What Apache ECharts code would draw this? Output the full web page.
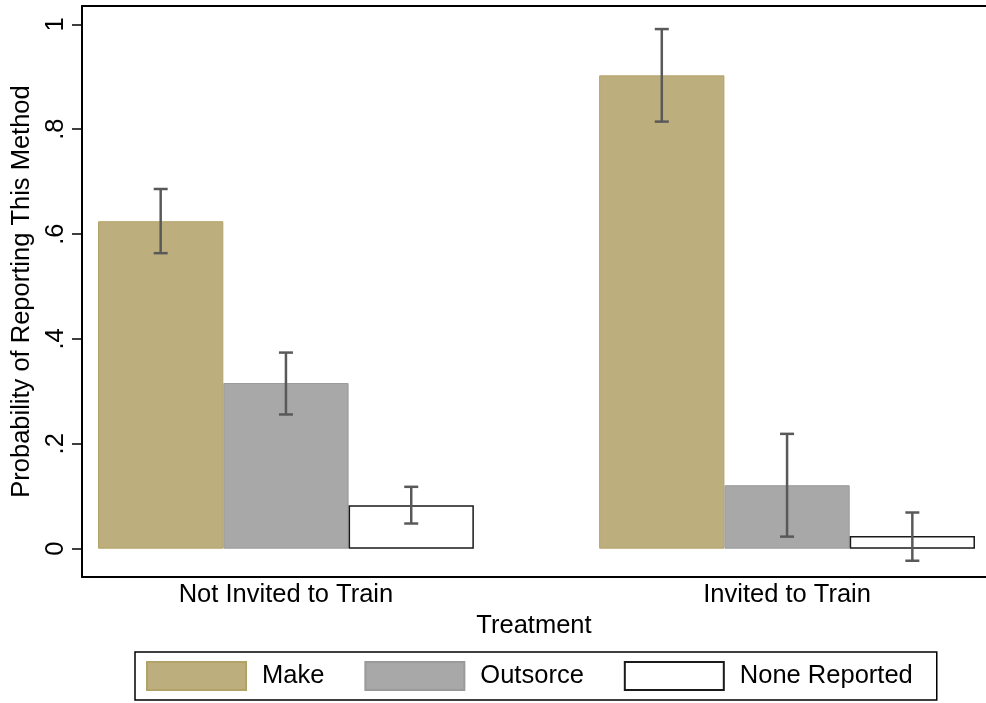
<!DOCTYPE html>
<html>
<head>
<meta charset="utf-8">
<script src="https://cdn.jsdelivr.net/npm/echarts@6/dist/echarts.min.js"></script>
<style>
html,body{margin:0;padding:0;background:#fff;}
#chart{width:986px;height:703px;}
</style>
</head>
<body>
<div id="chart"></div>
<script>
// ---- data ----
var categories = ['Not Invited to Train', 'Invited to Train'];
var seriesNames = ['Make', 'Outsorce', 'None Reported'];
var makeValues = [0.6245, 0.9027];
var outsourceValues = [0.316, 0.121];
var noneValues = [0.083, 0.024];
var makeLow = [0.5636, 0.8145];
var makeHigh = [0.686, 0.991];
var outsourceLow = [0.256, 0.023];
var outsourceHigh = [0.374, 0.219];
var noneLow = [0.048, -0.023];
var noneHigh = [0.118, 0.069];
var yTickValues = [0, 0.2, 0.4, 0.6, 0.8, 1];
var yTickLabels = ['0', '.2', '.4', '.6', '.8', '1'];
var xTickValues = [0, 1];

var FONT = '"Liberation Sans", Arial, Helvetica, sans-serif';
var FS = 25.5;

var values = [makeValues, outsourceValues, noneValues];
var lows = [makeLow, outsourceLow, noneLow];
var highs = [makeHigh, outsourceHigh, noneHigh];
var styles = [
  {color: '#bdae7d', borderColor: '#b3a268', borderWidth: 1},
  {color: '#a8a8a8', borderColor: '#9a9a9a', borderWidth: 1},
  {color: '#ffffff', borderColor: '#1a1a1a', borderWidth: 1.5}
];

var series = [];
values.forEach(function (vals, si) {
  series.push({
    name: seriesNames[si],
    type: 'bar',
    xAxisIndex: 0,
    barWidth: '25%',
    barGap: '0%',
    z: 2,
    itemStyle: styles[si],
    data: vals.map(function (v, gi) { return [xTickValues[gi], v]; }),
    animation: false
  });
});

var errData = [];
values.forEach(function (vals, si) {
  vals.forEach(function (v, gi) {
    errData.push([xTickValues[gi], lows[si][gi], highs[si][gi], si]);
  });
});

series.push({
  type: 'custom',
  xAxisIndex: 0,
  silent: true,
  animation: false,
  z: 10,
  data: errData,
  encode: {x: 0, y: [1, 2]},
  renderItem: function (params, api) {
    var band = api.size([1, 0])[0];
    var si = api.value(3);
    var off = (si - 1) * 0.25 * band;
    var lo = api.coord([api.value(0), api.value(1)]);
    var hi = api.coord([api.value(0), api.value(2)]);
    var x = lo[0] + off;
    var cap = 7;
    var st = {stroke: '#595959', lineWidth: 2.5};
    return {
      type: 'group',
      children: [
        {type: 'line', shape: {x1: x, y1: lo[1], x2: x, y2: hi[1]}, style: st},
        {type: 'line', shape: {x1: x - cap, y1: lo[1], x2: x + cap, y2: lo[1]}, style: st},
        {type: 'line', shape: {x1: x - cap, y1: hi[1], x2: x + cap, y2: hi[1]}, style: st}
      ]
    };
  }
});

var chart = echarts.init(document.getElementById('chart'), null, {renderer: 'canvas'});
chart.setOption({
  backgroundColor: '#fff',
  animation: false,
  textStyle: {fontFamily: FONT},
  grid: {left: 82, right: 0, top: 6, bottom: 126, containLabel: false},
  legend: {
    data: seriesNames,
    left: 135,
    top: 652,
    orient: 'horizontal',
    itemWidth: 99,
    itemHeight: 28,
    itemGap: 40,
    padding: [9, 24, 9, 11],
    borderColor: '#000',
    borderWidth: 1.5,
    icon: 'rect',
    textStyle: {fontFamily: FONT, fontSize: FS, color: '#000', padding: [0, 0, 0, 11]}
  },
  xAxis: [{
    type: 'value',
    min: -0.407,
    max: 1.397,
    position: 'bottom',
    splitLine: {show: false},
    axisLine: {show: true, onZero: false, lineStyle: {color: '#000', width: 2}},
    axisTick: {show: false},
    axisLabel: {
      customValues: xTickValues,
      formatter: function (v) {
        var i = xTickValues.indexOf(v);
        return i >= 0 ? categories[i] : '';
      },
      color: '#000', fontSize: FS, fontFamily: FONT, margin: 5
    },
    name: 'Treatment',
    nameLocation: 'middle',
    nameGap: 33,
    nameTextStyle: {color: '#000', fontSize: FS, fontFamily: FONT}
  }, {
    type: 'value',
    min: -0.407,
    max: 1.397,
    position: 'top',
    splitLine: {show: false},
    axisLine: {show: true, onZero: false, lineStyle: {color: '#000', width: 2}},
    axisTick: {show: false},
    axisLabel: {show: false}
  }],
  yAxis: {
    type: 'value',
    min: -0.054,
    max: 1.035,
    splitLine: {show: false},
    axisLine: {show: true, onZero: false, lineStyle: {color: '#000', width: 2}},
    axisTick: {show: true, length: 10, customValues: yTickValues, lineStyle: {color: '#000', width: 1.5}},
    axisLabel: {
      customValues: yTickValues,
      rotate: 90,
      margin: 13,
      formatter: function (v) {
        var i = -1;
        for (var k = 0; k < yTickValues.length; k++) { if (Math.abs(yTickValues[k] - v) < 1e-9) i = k; }
        return i >= 0 ? yTickLabels[i] : '';
      },
      color: '#000', fontSize: FS, fontFamily: FONT
    },
    name: 'Probability of Reporting This Method',
    nameLocation: 'middle',
    nameGap: 43,
    nameRotate: 90,
    nameTextStyle: {color: '#000', fontSize: FS, fontFamily: FONT}
  },
  series: series
});
</script>
</body>
</html>
